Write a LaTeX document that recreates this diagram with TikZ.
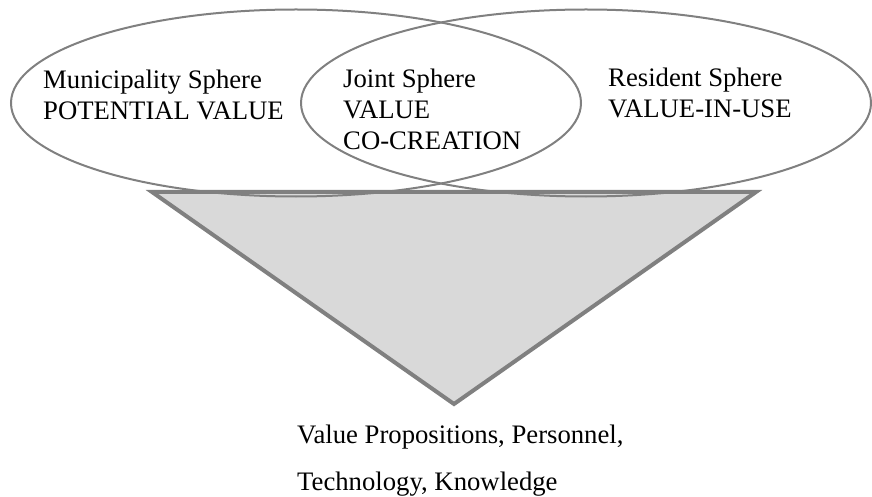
\documentclass[tikz,border=0pt]{standalone}
\usepackage{fontspec}
\setmainfont{Liberation Serif}
\usetikzlibrary{shapes.geometric,positioning}
\definecolor{linegray}{RGB}{128,128,128}
\definecolor{fillgray}{RGB}{217,217,217}

\begin{document}
\begin{tikzpicture}[x=1pt,y=-1pt]
  \tikzstyle{sphere}=[ellipse,draw=linegray,line width=2pt,minimum width=570pt,minimum height=187pt,inner sep=0pt]
  \tikzstyle{tag}=[align=left,anchor=base west,inner sep=0pt,font=\fontsize{26.7}{31}\selectfont]
  \useasboundingbox (0,0) rectangle (872,497);

  % resources funnel
  \coordinate (tl) at (152,192);
  \coordinate (tr) at (756,192);
  \coordinate (tip) at (454,404);
  \draw[draw=linegray,fill=fillgray,line width=4pt] (tl) -- (tr) -- (tip) -- cycle;

  % the two spheres
  \node[sphere] (municipality) at (296,103) {};
  \node[sphere] (resident) at (586,103) {};

  % texts, placed by their last baseline
  \node[tag] (mtext) at (43,120) {Municipality Sphere\\POTENTIAL VALUE};
  \node[tag] (jtext) at (343,150) {Joint Sphere\\VALUE\\CO-CREATION};
  \node[tag] (rtext) at (608,118) {Resident Sphere\\VALUE-IN-USE};

  \node[tag] (resources) at (297,490) {Value Propositions, Personnel,\\[16pt]Technology, Knowledge};
\end{tikzpicture}
\end{document}
